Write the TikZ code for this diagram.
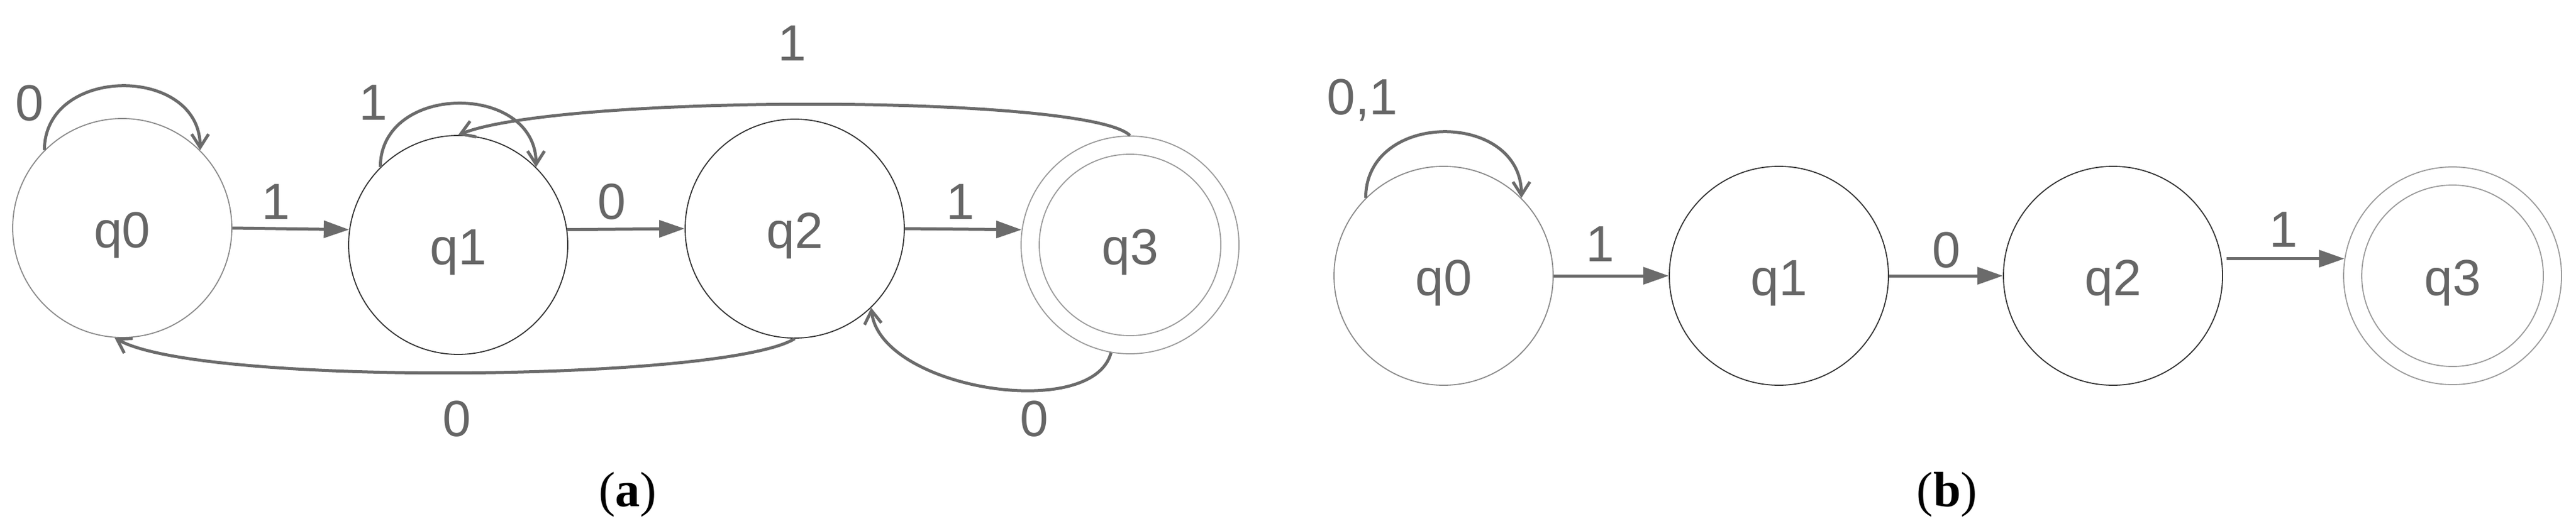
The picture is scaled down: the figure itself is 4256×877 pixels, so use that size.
\documentclass[tikz,border=0pt]{standalone}
\usepackage{fontspec}
\setmainfont{Liberation Serif}
\newfontfamily\arialf{Liberation Sans}
\usetikzlibrary{arrows.meta}
\definecolor{edgegray}{HTML}{6B6B6B}
\definecolor{txtgray}{HTML}{666666}
\definecolor{ringlight}{HTML}{8A8A8A}
\definecolor{ringdark}{HTML}{333333}
\definecolor{ringpale}{HTML}{9A9A9A}
\begin{document}
\begin{tikzpicture}[x=0.25pt,y=-0.25pt,
  state/.style={circle, draw=ringdark, line width=0.45pt, minimum size=90.5pt, inner sep=0pt,
    text height=16pt, text depth=0pt, font=\arialf\fontsize{21pt}{21pt}\selectfont, text=txtgray},
  lightstate/.style={state, draw=ringlight},
  acceptstate/.style={state, draw=ringpale, minimum size=90pt},
  innerring/.style={circle, draw=ringpale, line width=0.45pt, minimum size=75pt, inner sep=0pt},
  lbl/.style={anchor=base, inner sep=0pt, font=\arialf\fontsize{21pt}{21pt}\selectfont, text=txtgray},
  straightedge/.style={draw=edgegray, line width=1.25pt, -{Triangle[length=10.5pt,width=7pt]}},
  curveedge/.style={draw=edgegray, line width=1.25pt, -{Straight Barb[length=5.5pt,width=7pt]}},
  caption/.style={inner sep=0pt, font=\fontsize{20.5pt}{22pt}\selectfont}
]
\useasboundingbox (0,0) rectangle (4256,877);

% ---------- panel (a) ----------
\node[lightstate] (a0) at (202,377) {q0};
\node[state] (a1) at (757,405) {q1};
\node[state] (a2) at (1313,378) {q2};
\node[acceptstate] (a3) at (1867,405) {q3};
\node[innerring] (a3i) at (a3.center) {};

\draw[curveedge] (a0.135) .. controls +(0,-141) and +(0,-141) .. (a0.45);
\draw[straightedge] (a0.east) -- (a1.172);
\draw[curveedge] (a1.135) .. controls +(0,-140) and +(0,-140) .. (a1.45);
\draw[straightedge] (a1.8) -- (a2.west);
\draw[straightedge] (a2.east) -- (a3.172);
\draw[curveedge] (a3.north) .. controls +(-68,-68) and +(173,-68) .. (a1.north);
\draw[curveedge] (a2.south) .. controls +(-113,71) and +(140,81) .. (a0.-94);
\draw[curveedge] (a3.-100) .. controls +(-30,115) and +(15,135) .. (a2.-46);

\node[lbl] (la0) at (49,199) {0};
\node[lbl] (la1) at (456,362) {1};
\node[lbl] (la2) at (617,198) {1};
\node[lbl] (la3) at (1011,362) {0};
\node[lbl] (la4) at (755,721) {0};
\node[lbl] (la5) at (1309,101) {1};
\node[lbl] (la6) at (1587,362) {1};
\node[lbl] (la7) at (1709,721) {0};

\node[caption] (capa) at (1037,818) {(\textbf{a})};

% ---------- panel (b) ----------
\node[lightstate] (b0) at (2385,456) {q0};
\node[state] (b1) at (2939,456) {q1};
\node[state] (b2) at (3491,456) {q2};
\node[acceptstate] (b3) at (4052,456) {q3};
\node[innerring] (b3i) at (b3.center) {};

\draw[curveedge] (b0.135) .. controls +(0,-145) and +(0,-145) .. (b0.45);
\draw[straightedge] (b0.east) -- (b1.west);
\draw[straightedge] (b1.east) -- (b2.west);
\draw[straightedge, shorten <=2pt] (b2.9) -- (b3.171);

\node[lbl] (lb0) at (2251,190) {0,1};
\node[lbl] (lb1) at (2644,432) {1};
\node[lbl] (lb2) at (3216,442) {0};
\node[lbl] (lb3) at (3773,408) {1};

\node[caption] (capb) at (3217,818) {(\textbf{b})};
\end{tikzpicture}
\end{document}
